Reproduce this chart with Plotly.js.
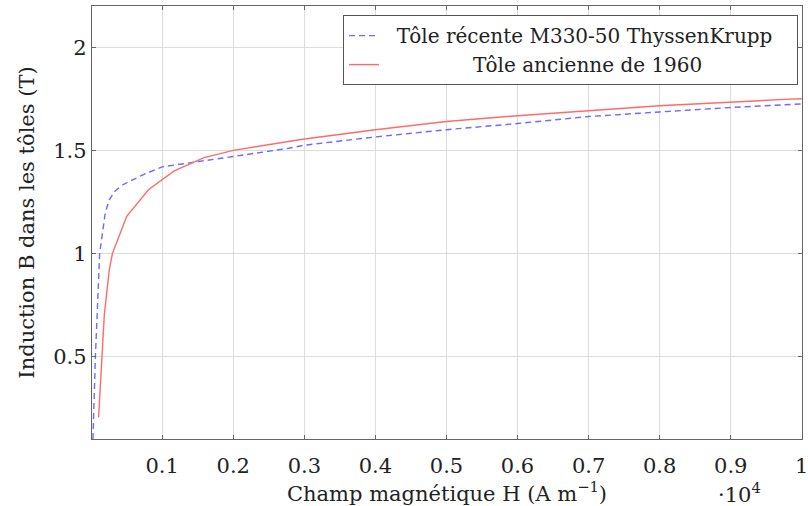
<!DOCTYPE html>
<html>
<head>
<meta charset="utf-8">
<script src="https://cdn.plot.ly/plotly-3.0.1.min.js"></script>
<style>html,body{margin:0;padding:0;background:#fff;}#chart{width:808px;height:506px;}</style>
</head>
<body>
<div id="chart"></div>
<script>
// Champ magnétique H (A/m) et induction B (T)
const recentH = [25, 60, 120, 200, 255, 330, 440, 720, 1000, 1560, 2000, 2780, 3000, 4000, 5000, 6000, 7000, 8000, 9000, 10000];
const recentB = [0.1, 0.5, 1.0, 1.2, 1.26, 1.30, 1.332, 1.38, 1.42, 1.45, 1.47, 1.51, 1.525, 1.565, 1.60, 1.63, 1.664, 1.686, 1.708, 1.725];
const ancienH = [105, 150, 185, 255, 300, 500, 810, 1170, 1590, 2000, 3000, 4000, 5000, 6000, 7400, 8000, 9750, 10000];
const ancienB = [0.205, 0.5, 0.7, 0.92, 1.0, 1.18, 1.31, 1.40, 1.465, 1.50, 1.555, 1.60, 1.64, 1.668, 1.703, 1.716, 1.747, 1.75];
const xTickVals = [1000, 2000, 3000, 4000, 5000, 6000, 7000, 8000, 9000, 10000];
const xTickText = ['0.1', '0.2', '0.3', '0.4', '0.5', '0.6', '0.7', '0.8', '0.9', '1'];
const yTickVals = [0.5, 1, 1.5, 2];
const yTickText = ['0.5', '1', '1.5', '2'];
const seriesNames = ['\u00a0\u00a0Tôle récente M330-50 ThyssenKrupp\u00a0\u00a0\u00a0',
  '\u00a0\u00a0\u00a0\u00a0\u00a0\u00a0\u00a0\u00a0\u00a0\u00a0\u00a0\u00a0\u00a0\u00a0Tôle ancienne de 1960'];

const serif = "'DejaVu Serif', 'Liberation Serif', serif";
const traces = [
  {x: recentH, y: recentB, name: seriesNames[0], mode: 'lines', type: 'scatter',
   line: {color: '#6b6bff', width: 1.4, dash: '6px,4px'}},
  {x: ancienH, y: ancienB, name: seriesNames[1], mode: 'lines', type: 'scatter',
   line: {color: '#ff6b6b', width: 1.4}}
];
const axisCommon = {
  showline: true, linecolor: '#666', linewidth: 1.2, mirror: 'ticks',
  ticks: 'inside', ticklen: 4, tickcolor: '#666', tickwidth: 1,
  showgrid: true, gridcolor: '#dcdcdc', gridwidth: 1, zeroline: false,
  ticklabeloverflow: 'allow',
  tickfont: {family: serif, size: 21, color: '#222'}
};
const layout = {
  width: 808, height: 506,
  margin: {l: 92, r: 6, t: 6, b: 67},
  paper_bgcolor: '#fff', plot_bgcolor: '#fff',
  showlegend: true,
  legend: {x: 0.3535, y: 0.979, xanchor: 'left', yanchor: 'top',
    bgcolor: '#fff', bordercolor: '#555', borderwidth: 1,
    font: {family: serif, size: 20, color: '#222'}, tracegroupgap: 0},
  xaxis: Object.assign({}, axisCommon, {
    range: [12, 10003], tickmode: 'array', tickvals: xTickVals, ticktext: xTickText,
    ticklabelstandoff: 8,
    title: {text: 'Champ magnétique H (A m<sup>−1</sup>)', font: {family: serif, size: 21, color: '#222'}, standoff: 10}
  }),
  yaxis: Object.assign({}, axisCommon, {
    range: [0.1, 2.2], tickmode: 'array', tickvals: yTickVals, ticktext: yTickText,
    title: {text: 'Induction B dans les tôles (T)', font: {family: serif, size: 21, color: '#222'}, standoff: 12}
  }),
  annotations: [{xref: 'paper', yref: 'paper', x: 0.912, y: -0.125, xanchor: 'center', yanchor: 'middle',
    text: '·10<sup>4</sup>', showarrow: false, font: {family: serif, size: 21, color: '#222'}}]
};
Plotly.newPlot('chart', traces, layout, {displayModeBar: false, staticPlot: true});
</script>
</body>
</html>
